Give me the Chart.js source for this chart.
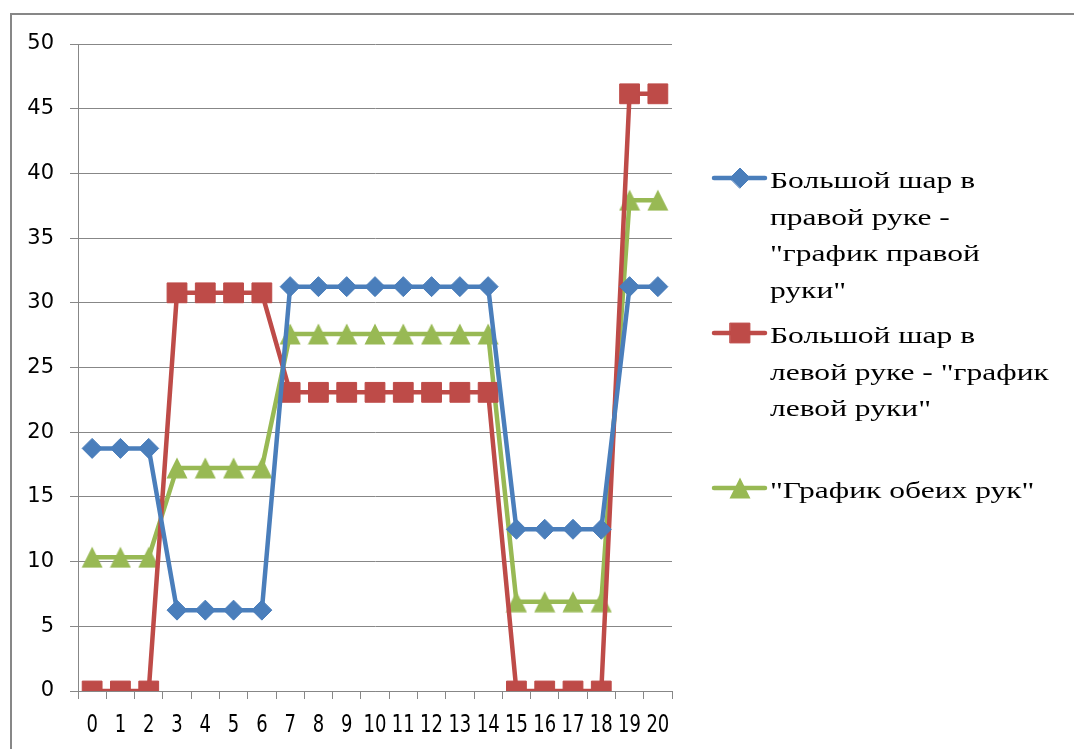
<!DOCTYPE html>
<html>
<head>
<meta charset="utf-8">
<script src="https://cdn.jsdelivr.net/npm/chart.js@4/dist/chart.umd.min.js"></script>
<style>
body{margin:0;background:#fff;overflow:hidden}
#cadre{position:absolute;left:10px;top:13px;width:1200px;height:900px;border:2px solid #878787}
#zone{position:absolute;left:0;top:0;width:1074px;height:749px}
</style>
</head>
<body>
<div id="cadre"></div>
<div id="zone"><canvas id="graphe"></canvas></div>
<script>
var etapes = ["0","1","2","3","4","5","6","7","8","9","10","11","12","13","14","15","16","17","18","19","20"];

var mainDroite = [18.75,18.75,18.75,6.25,6.25,6.25,6.25,31.25,31.25,31.25,31.25,31.25,31.25,31.25,31.25,12.5,12.5,12.5,12.5,31.25,31.25];
var mainGauche = [0,0,0,30.77,30.77,30.77,30.77,23.08,23.08,23.08,23.08,23.08,23.08,23.08,23.08,0,0,0,0,46.15,46.15];
var deuxMains = [10.34,10.34,10.34,17.24,17.24,17.24,17.24,27.59,27.59,27.59,27.59,27.59,27.59,27.59,27.59,6.9,6.9,6.9,6.9,37.93,37.93];

var nomDroite = ["Большой шар в", "правой руке -", "\"график правой", "руки\""];
var nomGauche = ["Большой шар в", "левой руке - \"график", "левой руки\""];
var nomDeux = ["\"График обеих рук\""];

var yMin = 0, yMax = 50, yPas = 5;

var bleu = "#4a7ebb", rouge = "#be4b48", vert = "#98b954";

// triangle marker, same shape as in Excel (centered box, not centroid)
function triangle(couleur){
    var c = document.createElement("canvas");
    c.width = 22; c.height = 22;
    var g = c.getContext("2d");
    g.fillStyle = couleur;
    g.beginPath();
    g.moveTo(11, 0.5);
    g.lineTo(21.5, 21.5);
    g.lineTo(0.5, 21.5);
    g.closePath();
    g.fill();
    return c;
}

// legend on the right, each entry gets the same height
var legendeDroite = {
    id: "legendeDroite",
    afterDraw: function(chart){
        var ctx = chart.ctx;
        chart.data.datasets.forEach(function(ds, i){
            var y = 178 + i * 155;
            ctx.save();
            ctx.strokeStyle = ds.borderColor;
            ctx.lineWidth = 4.5;
            ctx.lineCap = "round";
            ctx.beginPath();
            ctx.moveTo(714, y);
            ctx.lineTo(765, y);
            ctx.stroke();
            ctx.fillStyle = ds.pointBackgroundColor;
            ctx.strokeStyle = ds.borderColor;
            ctx.lineWidth = ds.pointBorderWidth;
            Chart.helpers.drawPoint(ctx, {pointStyle: ds.pointStyle, radius: ds.pointRadius, rotation: 0, borderWidth: ds.pointBorderWidth}, 740, y);
            ctx.restore();

            ctx.save();
            ctx.fillStyle = "#000";
            ctx.font = "23px 'Liberation Serif'";
            ctx.textBaseline = "alphabetic";
            ds.lignes.forEach(function(txt, k){
                ctx.save();
                ctx.translate(770, y + 10 + k * 36.5);
                ctx.scale(1.37, 1);
                ctx.fillText(txt, 0, 0);
                ctx.restore();
            });
            ctx.restore();
        });
    }
};

// x labels are tall and narrow
var etiquettesX = {
    id: "etiquettesX",
    afterDraw: function(chart){
        var ctx = chart.ctx;
        var sx = chart.scales.x;
        ctx.save();
        ctx.fillStyle = "#000";
        ctx.font = "18px 'DejaVu Sans'";
        ctx.textAlign = "center";
        ctx.textBaseline = "alphabetic";
        for (var i = 0; i < etapes.length; i++){
            ctx.save();
            ctx.translate(sx.getPixelForTick(i), 732);
            ctx.scale(1, 1.42);
            ctx.fillText(sx.getLabelForValue(i), 0, 0);
            ctx.restore();
        }
        ctx.restore();
    }
};

function serie(label, lignes, data, couleur, style, rayon){
    return {
        label: label,
        lignes: lignes,
        data: data,
        borderColor: couleur,
        backgroundColor: couleur,
        borderWidth: 4.5,
        tension: 0,
        pointStyle: style,
        pointRadius: rayon,
        pointHoverRadius: rayon,
        pointBackgroundColor: couleur,
        pointBorderColor: couleur,
        pointBorderWidth: 1
    };
}

var ctx = document.getElementById("graphe");
var graphe = new Chart(ctx, {
    type: "line",
    data: {
        labels: etapes,
        datasets: [
            serie(nomDroite.join(" "), nomDroite, mainDroite, bleu, "rectRot", 10),
            serie(nomGauche.join(" "), nomGauche, mainGauche, rouge, "rect", 14),
            serie(nomDeux.join(" "), nomDeux, deuxMains, vert, triangle(vert), 11)
        ]
    },
    options: {
        responsive: true,
        maintainAspectRatio: false,
        animation: false,
        layout: {padding: {left: 0, top: 44, right: 402, bottom: 0}},
        plugins: {
            legend: {display: false},
            tooltip: {enabled: false}
        },
        scales: {
            x: {
                offset: true,
                grid: {offset: true, drawOnChartArea: false, drawTicks: true, tickLength: 8, color: "#878787"},
                border: {display: true, color: "#878787", width: 1},
                ticks: {display: false},
                afterFit: function(s){ s.height = 58; }
            },
            y: {
                min: yMin,
                max: yMax,
                grid: {color: "#878787", tickLength: 8, drawTicks: true},
                border: {display: true, color: "#878787", width: 1},
                ticks: {stepSize: yPas, padding: 16, color: "#000", font: {family: "'DejaVu Sans'", size: 21}},
                afterFit: function(s){ s.width = 78; }
            }
        }
    },
    plugins: [legendeDroite, etiquettesX]
});
</script>
</body>
</html>
